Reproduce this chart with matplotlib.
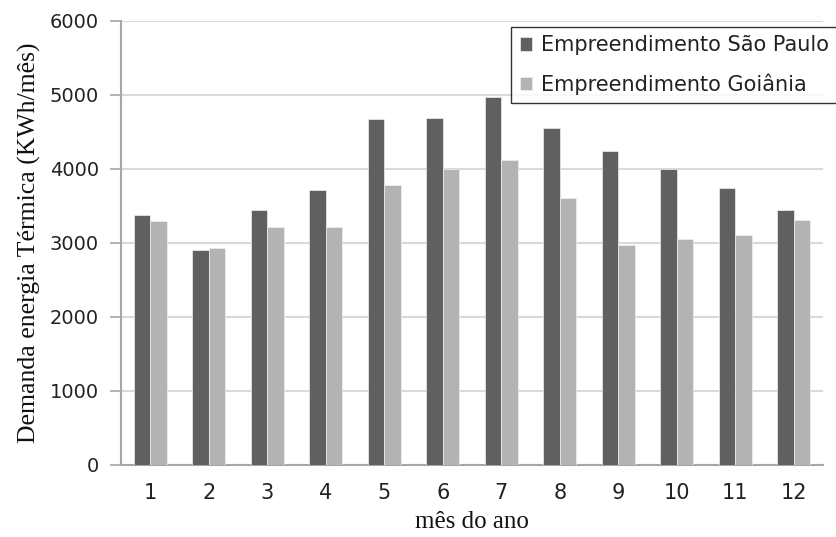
import matplotlib
matplotlib.use("Agg")
import matplotlib.pyplot as plt
import numpy as np

months = ["1", "2", "3", "4", "5", "6", "7", "8", "9", "10", "11", "12"]
sao_paulo = [3378, 2901, 3441, 3712, 4676, 4694, 4973, 4559, 4243, 3995, 3743, 3441]
goiania = [3297, 2928, 3212, 3212, 3779, 3995, 4126, 3613, 2977, 3058, 3112, 3311]
series_names = ["Empreendimento São Paulo", "Empreendimento Goiânia"]
y_ticks = [0, 1000, 2000, 3000, 4000, 5000, 6000]

W, H = 837, 537
fig = plt.figure(figsize=(W / 100, H / 100), dpi=100)
ax = fig.add_axes([121 / W, 1 - 465 / H, (823 - 121) / W, (465 - 21) / H])

x = np.arange(len(months))
bw = 0.282
ax.bar(x - bw / 2, sao_paulo, width=bw, color="#606060", edgecolor="#f0f0f0",
       linewidth=0.5, label=series_names[0], zorder=3)
ax.bar(x + bw / 2, goiania, width=bw, color="#b3b3b3", edgecolor="#f0f0f0",
       linewidth=0.5, label=series_names[1], zorder=3)

ax.set_xlim(-0.5, len(months) - 0.5)
ax.set_ylim(0, 6000)
ax.set_yticks(y_ticks)
ax.set_xticks(x)
ax.set_xticklabels(months)

ax.yaxis.grid(True, color="#d9d9d9", linewidth=1.5, zorder=0)
ax.set_axisbelow(True)
for side in ("top", "right"):
    ax.spines[side].set_visible(False)
ax.spines["left"].set_color("#a6a6a6")
ax.spines["left"].set_linewidth(1.5)
ax.spines["bottom"].set_color("#a6a6a6")
ax.spines["bottom"].set_linewidth(1.5)

ax.tick_params(axis="y", length=8, width=1.2, color="#a6a6a6", pad=8,
               labelcolor="#222222", labelsize=14)
ax.tick_params(axis="x", length=0, pad=13, labelcolor="#222222", labelsize=15)
for lab in ax.get_xticklabels() + ax.get_yticklabels():
    lab.set_fontfamily("DejaVu Sans")

ax.set_ylabel("Demanda energia Térmica (KWh/mês)", family="Liberation Serif",
              fontsize=18.5, color="#111111", labelpad=6)
ax.set_xlabel("mês do ano", family="Liberation Serif", fontsize=18,
              color="#111111", labelpad=6)

leg = ax.legend(loc="upper right", bbox_to_anchor=(837 / W, 1 - 27 / H),
                bbox_transform=fig.transFigure,
                prop={"family": "DejaVu Sans", "size": 15},
                frameon=True, fancybox=False, edgecolor="black",
                handlelength=0.6, handleheight=0.6, handletextpad=0.4,
                borderpad=0.4, labelspacing=0.85, borderaxespad=0)
leg.get_frame().set_linewidth(1.0)
for t in leg.get_texts():
    t.set_color("#222222")

fig.savefig("out.png", dpi=100)
